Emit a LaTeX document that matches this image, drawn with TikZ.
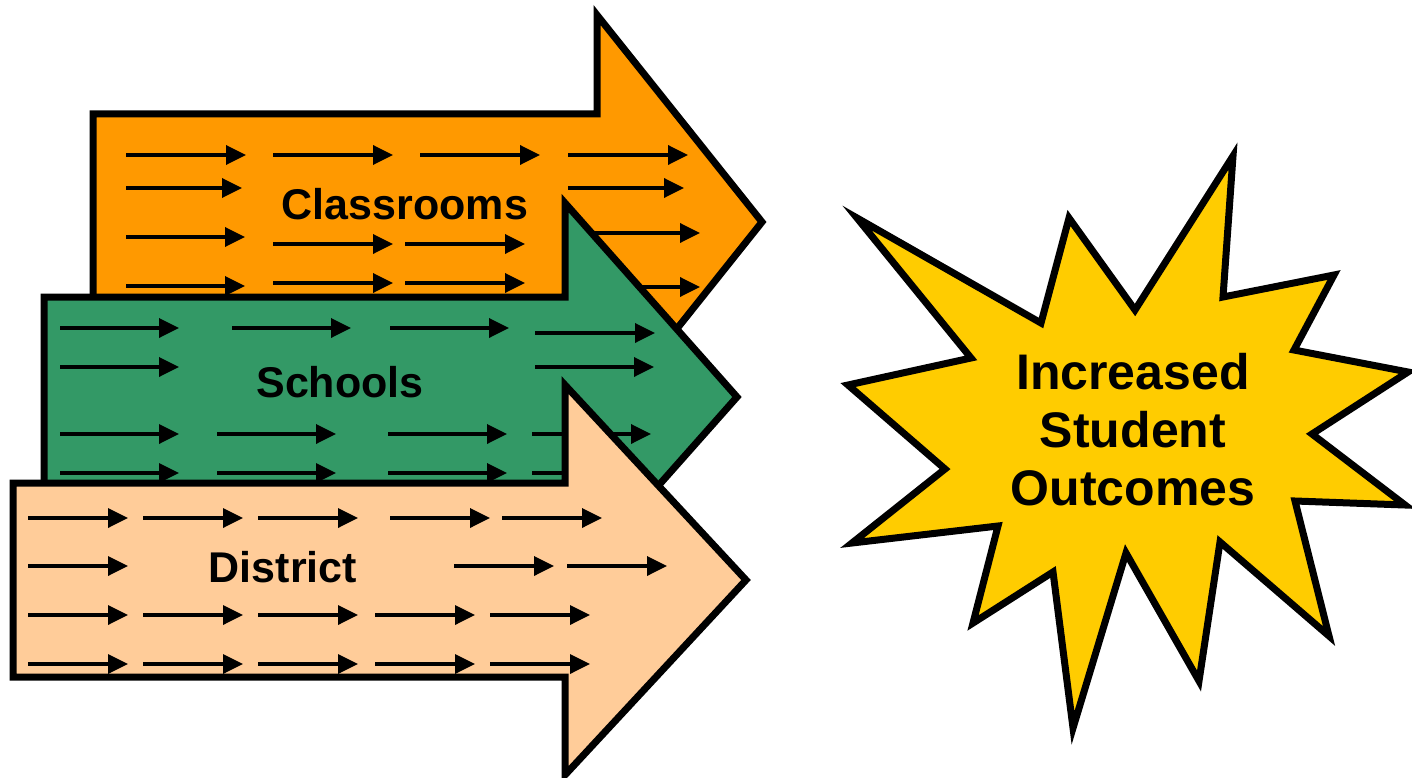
\documentclass[tikz,border=0pt]{standalone}
\usepackage{fontspec}
\setmainfont{Liberation Sans}
\usetikzlibrary{arrows.meta}
\definecolor{classorange}{HTML}{FF9900}
\definecolor{schoolgreen}{HTML}{339966}
\definecolor{districtpeach}{HTML}{FFCC99}
\definecolor{staryellow}{HTML}{FFCC00}
\tikzstyle{bigarrow} = [draw=black, line width=7pt, line join=miter]
\tikzstyle{flowarrow} = [line width=3.5pt, -{Triangle[length=20pt, width=19pt]}]
\tikzstyle{arrowtext} = [anchor=base, inner sep=0pt,
  font=\bfseries\fontsize{43pt}{50pt}\selectfont]
\tikzstyle{startext} = [align=center, inner sep=0pt,
  font=\bfseries\fontsize{50pt}{58pt}\selectfont]

\begin{document}
\begin{tikzpicture}[x=1pt, y=-1pt]
  \useasboundingbox (0,0) rectangle (1412,778);

  % classrooms
  \draw [bigarrow, fill=classorange] (93,114) -- (597,114) -- (597,15)
    -- (762,222) -- (597,429) -- (597,330) -- (93,330) -- cycle;
  \foreach \x in {126,273,420,568} \draw [flowarrow] (\x,155) -- ++(120,0);
  \foreach \x in {126,568} \draw [flowarrow] (\x,188) -- ++(116,0);
  \draw [flowarrow] (126,237) -- ++(119,0);
  \foreach \x in {273,405} \draw [flowarrow] (\x,244) -- ++(120,0);
  \draw [flowarrow] (580,233) -- ++(120,0);
  \draw [flowarrow] (126,286) -- ++(119,0);
  \foreach \x in {273,405} \draw [flowarrow] (\x,283) -- ++(120,0);
  \draw [flowarrow] (580,287) -- ++(120,0);
  \node (classrooms) [arrowtext] at (405,219) {Classrooms};

  % schools
  \draw [bigarrow, fill=schoolgreen] (44,297) -- (565,297) -- (565,203)
    -- (737,397) -- (565,591) -- (565,497) -- (44,497) -- cycle;
  \foreach \x in {60,232,390} \draw [flowarrow] (\x,328) -- ++(119,0);
  \draw [flowarrow] (535,333) -- ++(120,0);
  \foreach \x in {60,535} \draw [flowarrow] (\x,367) -- ++(119,0);
  \foreach \x in {60,217,388,532} \draw [flowarrow] (\x,434) -- ++(119,0);
  \foreach \x in {60,217,388,532} \draw [flowarrow] (\x,473) -- ++(119,0);
  \node (schools) [arrowtext] at (340,397) {Schools};

  % district
  \draw [bigarrow, fill=districtpeach] (13,483) -- (565,483) -- (565,385)
    -- (746,580) -- (565,775) -- (565,677) -- (13,677) -- cycle;
  \foreach \x in {28,143,258,390,502} \draw [flowarrow] (\x,518) -- ++(100,0);
  \foreach \x in {28,454,567} \draw [flowarrow] (\x,566) -- ++(100,0);
  \foreach \x in {28,143,258,375,490} \draw [flowarrow] (\x,615) -- ++(100,0);
  \foreach \x in {28,143,258,375,490} \draw [flowarrow] (\x,664) -- ++(100,0);
  \node (district) [arrowtext] at (283,582) {District};

  % outcomes
  \draw [bigarrow, fill=staryellow] (857,218) -- (1041,323) -- (1069,218)
    -- (1135,310) -- (1233,156) -- (1223,297) -- (1334,275) -- (1294,350)
    -- (1408,372) -- (1312,434) -- (1405,505) -- (1295,501) -- (1329,636)
    -- (1220,542) -- (1199,681) -- (1126,553) -- (1073,728) -- (1053,572)
    -- (973,623) -- (998,526) -- (852,543) -- (945,469) -- (848,385)
    -- (971,358) -- cycle;
  \node (outcomes) [startext] at (1133,430) {Increased\\Student\\Outcomes};
\end{tikzpicture}
\end{document}
